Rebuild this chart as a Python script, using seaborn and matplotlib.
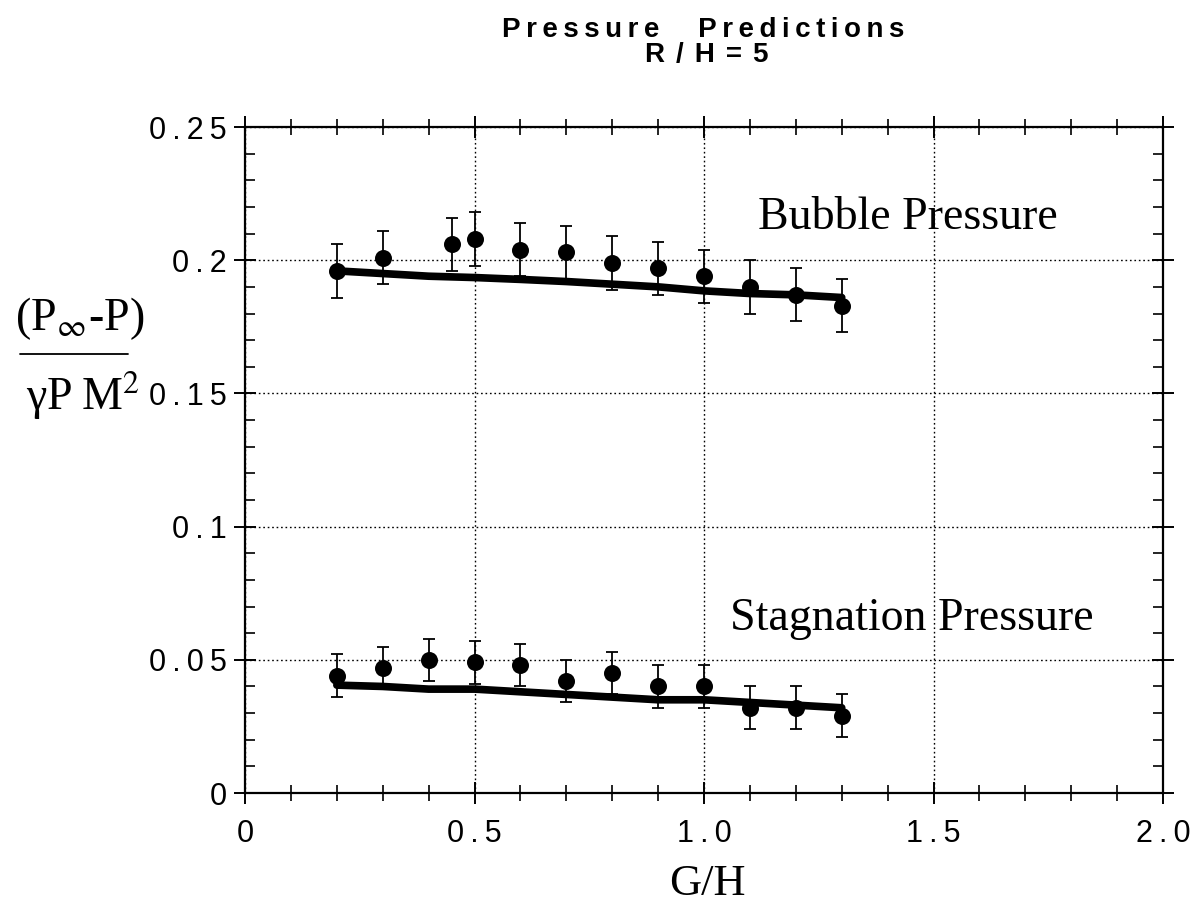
import matplotlib
matplotlib.use("Agg")
import matplotlib.pyplot as plt
from matplotlib.lines import Line2D
from matplotlib.ticker import MultipleLocator, FixedLocator, FixedFormatter
import seaborn as sns
import pandas as pd

# ---- data ----
bubble_x = [0.2, 0.3, 0.45, 0.5, 0.6, 0.7, 0.8, 0.9, 1.0, 1.1, 1.2, 1.3]
bubble_y = [0.196, 0.201, 0.206, 0.208, 0.204, 0.203, 0.199, 0.197, 0.194, 0.190, 0.187, 0.183]
bubble_err = [0.010, 0.010, 0.010, 0.010, 0.010, 0.010, 0.010, 0.010, 0.010, 0.010, 0.010, 0.010]

stag_x = [0.2, 0.3, 0.4, 0.5, 0.6, 0.7, 0.8, 0.9, 1.0, 1.1, 1.2, 1.3]
stag_y = [0.044, 0.047, 0.050, 0.049, 0.048, 0.042, 0.045, 0.040, 0.040, 0.032, 0.032, 0.029]
stag_err = [0.008, 0.008, 0.008, 0.008, 0.008, 0.008, 0.008, 0.008, 0.008, 0.008, 0.008, 0.008]

model_x = [0.2, 0.3, 0.4, 0.5, 0.6, 0.7, 0.8, 0.9, 1.0, 1.1, 1.2, 1.3]
bubble_model = [0.196, 0.195, 0.194, 0.1935, 0.1928, 0.192, 0.191, 0.190, 0.1885, 0.1875, 0.187, 0.186]
stag_model = [0.0405, 0.040, 0.039, 0.039, 0.038, 0.037, 0.036, 0.035, 0.035, 0.034, 0.033, 0.032]

x_ticks = [0, 0.5, 1.0, 1.5, 2.0]
x_labels = ["0", "0.5", "1.0", "1.5", "2.0"]
y_ticks = [0, 0.05, 0.1, 0.15, 0.2, 0.25]
y_labels = ["0", "0.05", "0.1", "0.15", "0.2", "0.25"]

THIN = "\u2009"


def spaced(s, sep=THIN):
    return sep.join(list(s))


sns.set_theme(style="white")
plt.rcParams['font.family'] = ['Liberation Sans', 'DejaVu Sans']
plt.rcParams['mathtext.fontset'] = 'stix'
for k in ["text.color", "axes.labelcolor", "xtick.color", "ytick.color", "axes.edgecolor"]:
    plt.rcParams[k] = "black"

fig = plt.figure(figsize=(11.93, 9.06), dpi=100)
ax = fig.add_axes([0.2054, 0.1247, 0.9749 - 0.2054, 0.8598 - 0.1247])

models = pd.DataFrame({"x": model_x * 2,
                       "y": bubble_model + stag_model,
                       "s": ["b"] * len(model_x) + ["s"] * len(model_x)})
sns.lineplot(data=models, x="x", y="y", units="s", estimator=None,
             color="black", lw=5.5, ax=ax, legend=False)

for xs, ys, es in [(bubble_x, bubble_y, bubble_err), (stag_x, stag_y, stag_err)]:
    ax.errorbar(xs, ys, yerr=es, fmt="none", ecolor="black", elinewidth=1.3,
                capsize=4.5, capthick=1.3, zorder=3)
    sns.scatterplot(x=xs, y=ys, color="black", s=150, edgecolor="black",
                    linewidth=0, ax=ax, zorder=4)

ax.set_xlim(0, 2.0)
ax.set_ylim(0, 0.25)
ax.xaxis.set_major_locator(FixedLocator(x_ticks))
ax.xaxis.set_major_formatter(FixedFormatter([spaced(s) for s in x_labels]))
ax.yaxis.set_major_locator(FixedLocator(y_ticks))
ax.yaxis.set_major_formatter(FixedFormatter([spaced(s) for s in y_labels]))
ax.xaxis.set_minor_locator(MultipleLocator(0.1))
ax.yaxis.set_minor_locator(MultipleLocator(0.01))

ax.grid(True, which="major", color="black", linestyle=(0, (1.2, 2)), linewidth=1.0)
for sp in ax.spines.values():
    sp.set_color("black")
    sp.set_linewidth(1.6)

ax.tick_params(axis="both", which="major", direction="inout", length=16, width=1.4,
               top=True, right=True, bottom=True, left=True, labelsize=22,
               colors="black")
ax.tick_params(axis="x", which="major", pad=11)
ax.tick_params(axis="y", which="major", pad=5)
ax.tick_params(axis="x", which="minor", direction="inout", length=12, width=1.2,
               top=True, bottom=True)
ax.tick_params(axis="y", which="minor", direction="in", length=7, width=1.2,
               left=True, right=True)

ax.set_xlabel("")
ax.set_ylabel("")

W, H = 1193.0, 906.0

# x label
fig.text(707 / W, 1 - 895 / H, "G/H", fontsize=32, family="Liberation Serif",
         ha="center", va="baseline")

# y label as a stacked fraction
serif = ["Liberation Serif", "DejaVu Serif"]
fig.text(80 / W, 1 - 330 / H, r"(P$_{\infty}$-P)", fontsize=33, family=serif,
         ha="center", va="baseline")
fig.add_artist(Line2D([20 / W, 128 / W], [1 - 354 / H, 1 - 354 / H],
                      transform=fig.transFigure, color="black", lw=1.3))
fig.text(83 / W, 1 - 410 / H, "\u03b3P" + THIN + r"M$^{2}$", fontsize=33, family=serif,
         ha="center", va="baseline")

# annotations
ax.text(1.444, 0.2117, "Bubble Pressure", fontsize=33, family="Liberation Serif",
        ha="center", va="baseline")
ax.text(1.453, 0.0612, "Stagnation Pressure", fontsize=33, family="Liberation Serif",
        ha="center", va="baseline")

# title (letter-spaced)
fig.text(703 / W, 1 - 37 / H, spaced("Pressure") + "     " + spaced("Predictions"),
         fontsize=20, fontweight="bold", ha="center", va="baseline")
fig.text(707 / W, 1 - 62 / H, spaced("R/H=5", THIN + THIN),
         fontsize=20, fontweight="bold", ha="center", va="baseline")

fig.savefig("out.png", dpi=100)
